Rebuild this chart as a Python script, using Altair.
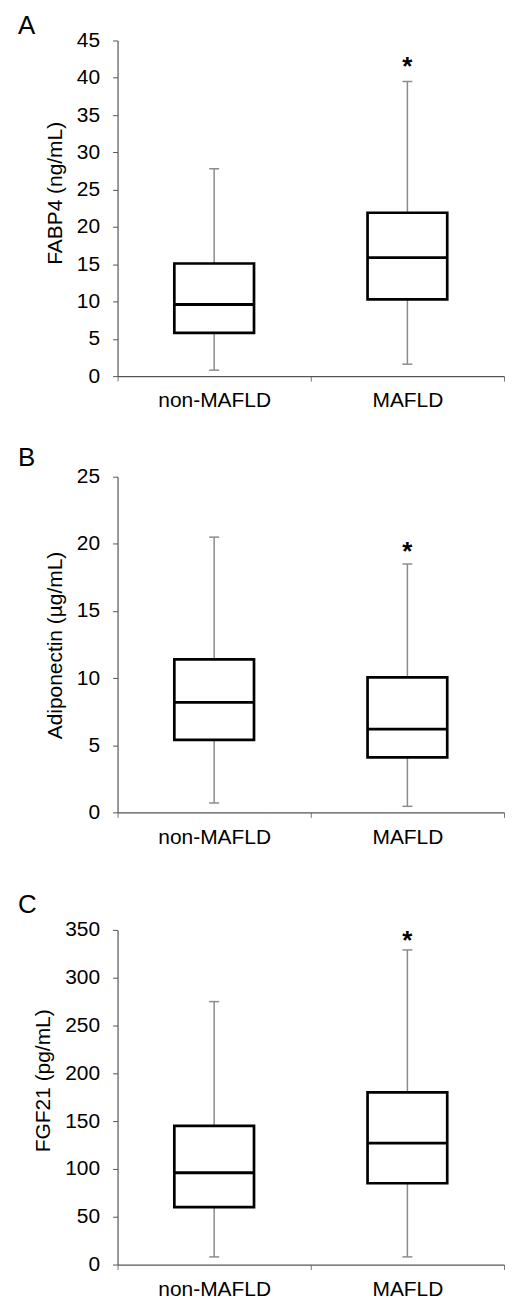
import altair as alt
import pandas as pd

categories = ["non-MAFLD", "MAFLD"]

# Panel A: FABP4 (ng/mL)
a_low = [0.8, 1.6]
a_q1 = [5.8, 10.3]
a_med = [9.6, 15.9]
a_q3 = [15.1, 21.9]
a_high = [27.8, 39.5]
a_star = [None, 42.3]

# Panel B: Adiponectin (µg/mL)
b_low = [0.7, 0.45]
b_q1 = [5.4, 4.1]
b_med = [8.2, 6.2]
b_q3 = [11.4, 10.05]
b_high = [20.5, 18.5]
b_star = [None, 19.8]

# Panel C: FGF21 (pg/mL)
c_low = [8, 8]
c_q1 = [60, 85]
c_med = [96, 127]
c_q3 = [145, 180]
c_high = [275, 329]
c_star = [None, 345]

FONT = "Liberation Sans"
W = 388
GRAY = "#8c8c8c"


def panel(letter, title, low, q1, med, q3, high, star, ymax, step, height,
          letter_y, top_y, title_x, title_y):
    df = pd.DataFrame({"group": categories, "low": low, "q1": q1, "med": med,
                       "q3": q3, "high": high, "star": star})
    base = alt.Chart(df)
    xaxis = alt.Axis(title=None, labelAngle=0, tickBand="extent",
                     labelFontSize=21, labelFont=FONT, labelColor="#000",
                     labelPadding=9, tickSize=5, domainColor="#555",
                     tickColor="#777", domainWidth=1.2)
    x = alt.X("group:N", sort=categories,
              scale=alt.Scale(paddingInner=0, paddingOuter=0), axis=xaxis)
    yscale = alt.Scale(domain=[0, ymax], nice=False)
    yaxis = alt.Axis(title=title, values=list(range(0, ymax + 1, step)),
                     grid=False, labelFontSize=21, labelFont=FONT,
                     labelColor="#000", labelPadding=13, tickSize=5,
                     labelOverlap=False,
                     domainColor="#555", tickColor="#555", domainWidth=1.2,
                     titleFont=FONT, titleFontSize=21, titleFontWeight="normal",
                     titleColor="#000", titleX=title_x, titleY=title_y,
                     titleBaseline="middle", titleAngle=-90, titleAlign="center")

    def Y(field):
        return alt.Y(field, scale=yscale, axis=yaxis, title=title)

    whisk_lo = base.mark_rule(color=GRAY, strokeWidth=1.5).encode(
        x=x, y=Y("low:Q"), y2="q1:Q")
    whisk_hi = base.mark_rule(color=GRAY, strokeWidth=1.5).encode(
        x=x, y=Y("q3:Q"), y2="high:Q")
    cap_lo = base.mark_tick(color=GRAY, size=10, thickness=1.5,
                            opacity=1).encode(x=x, y=Y("low:Q"))
    cap_hi = base.mark_tick(color=GRAY, size=10, thickness=1.5,
                            opacity=1).encode(x=x, y=Y("high:Q"))
    box = base.mark_bar(fill="white", stroke="black", strokeWidth=2.7,
                        size=80, opacity=1).encode(x=x, y=Y("q1:Q"), y2="q3:Q")
    median = base.mark_tick(color="black", size=80, thickness=2.8,
                            opacity=1).encode(x=x, y=Y("med:Q"))
    stars = base.transform_filter("isValid(datum.star)").mark_text(
        text="*", fontSize=26, font=FONT, fontWeight="bold", color="#000",
        baseline="alphabetic", dy=14).encode(x=x, y=Y("star:Q"))
    lab = alt.Chart(pd.DataFrame({"t": [letter]})).mark_text(
        fontSize=26, font=FONT, color="#000", align="left",
        baseline="top").encode(x=alt.value(-100), y=alt.value(letter_y),
                               text="t:N")
    spacer = alt.Chart(pd.DataFrame({"t": [letter]})).mark_rule(
        color="white", strokeWidth=0.1).encode(
        x=alt.value(-100), x2=alt.value(-99), y=alt.value(top_y))
    return alt.layer(whisk_lo, whisk_hi, cap_lo, cap_hi, box, median, stars,
                     lab, spacer).properties(width=W, height=height)


pa = panel("A", "FABP4 (ng/mL)", a_low, a_q1, a_med, a_q3, a_high, a_star,
           45, 5, 337, -27, -27, -62, 153)
pb = panel("B", "Adiponectin (µg/mL)", b_low, b_q1, b_med, b_q3, b_high,
           b_star, 25, 5, 337, -32, -32, -62, 169)
pc = panel("C", "FGF21 (pg/mL)", c_low, c_q1, c_med, c_q3, c_high, c_star,
           350, 50, 336, -38, -49, -74, 151)

chart = alt.concat(pa, pb, pc, columns=1, spacing=33, align="none").properties(
    padding={"left": 9, "top": 2, "right": 0, "bottom": 0}
).configure_view(stroke=None)

chart.save("out.html", embed_options={"renderer": "svg", "actions": False})
